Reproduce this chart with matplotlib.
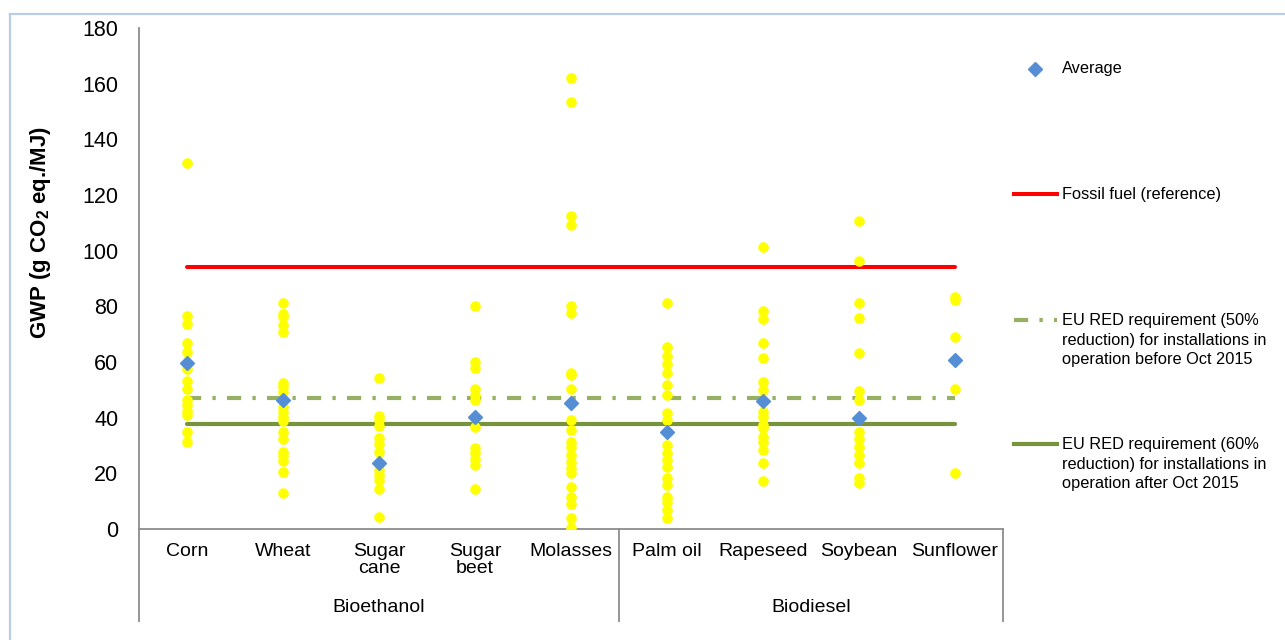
import matplotlib
matplotlib.use("Agg")
import matplotlib.pyplot as plt
from matplotlib.lines import Line2D
import matplotlib.transforms as mtransforms

plt.rcParams['font.family'] = ['Liberation Sans', 'DejaVu Sans']
plt.rcParams['mathtext.fontset'] = 'custom'
plt.rcParams['mathtext.rm'] = 'Liberation Sans'
plt.rcParams['mathtext.bf'] = 'Liberation Sans:bold'

# ---------------- data ----------------
categories = ["Corn", "Wheat", "Sugar\ncane", "Sugar\nbeet", "Molasses",
              "Palm oil", "Rapeseed", "Soybean", "Sunflower"]
groups = ["Bioethanol", "Biodiesel"]
group_sizes = [5, 4]

corn = [131.6, 76.5, 73.7, 67.0, 63.6, 57.5, 53.3, 50.4, 46.4, 44.6, 42.5, 40.8, 34.9, 31.1]
wheat = [81.1, 77.3, 76.3, 73.3, 70.7, 52.3, 50.9, 49.1, 46.4, 43.9, 42.1, 40.4, 38.9,
         34.9, 32.2, 27.8, 26.3, 24.6, 20.4, 12.8]
sugar_cane = [54.4, 40.7, 39.2, 37.0, 32.6, 30.4, 27.8, 23.8, 21.2, 19.4, 17.6, 14.3, 4.4]
sugar_beet = [80.2, 60.1, 58.0, 50.3, 48.1, 46.4, 40.4, 36.8, 29.2, 27.2, 25.0, 23.0, 14.3]
molasses = [161.9, 153.5, 112.6, 109.2, 80.2, 77.5, 56.2, 55.3, 50.3, 45.2, 39.2, 35.6,
            31.4, 29.6, 26.6, 24.2, 21.8, 20.0, 15.2, 11.6, 9.0, 3.8, 0.5]
palm_oil = [81.1, 65.5, 62.2, 59.3, 56.2, 51.7, 48.1, 41.6, 39.2, 35.0, 30.2, 27.2, 24.8,
            22.4, 18.2, 15.8, 11.6, 9.8, 6.8, 3.8]
rapeseed = [101.2, 78.5, 75.3, 66.7, 61.6, 52.9, 49.9, 46.1, 42.1, 40.4, 37.4, 36.2,
            33.2, 31.4, 28.4, 23.8, 17.2]
soybean = [110.7, 96.3, 81.1, 75.9, 63.4, 49.6, 46.4, 40.0, 35.0, 32.2, 29.6, 26.6,
           23.6, 18.4, 16.4]
sunflower = [83.5, 82.3, 69.1, 60.7, 50.3, 20.0]

averages = [59.5, 46.4, 23.8, 40.4, 45.2, 35.0, 46.1, 40.0, 60.7]

fossil_fuel = 94.0
red_50 = 47.0
red_60 = 37.6

series = [corn, wheat, sugar_cane, sugar_beet, molasses,
          palm_oil, rapeseed, soybean, sunflower]

y_label = r"GWP (g CO$_\mathregular{2}$ eq./MJ)"
legend_labels = ["Average", "Fossil fuel (reference)",
                 "EU RED requirement (50%\nreduction) for installations in\noperation before Oct 2015",
                 "EU RED requirement (60%\nreduction) for installations in\noperation after Oct 2015"]

# ---------------- styles ----------------
W, H = 1285, 640
YELLOW = "#FFFF00"
BLUE = "#558ED5"
RED = "#FF0000"
GREEN = "#77933C"
LGREEN = "#98B064"
GRAY = "#8C8C8C"
DASHDOT = (0, (3.4, 2.7, 0.8, 2.7))

fig = plt.figure(figsize=(W / 100, H / 100), dpi=100)
ax = fig.add_axes([139 / W, 1 - 529 / H, (1003 - 139) / W, (529 - 28) / H])

xs = list(range(len(categories)))

# horizontal reference lines (first to last category)
ax.plot([xs[0], xs[-1]], [fossil_fuel, fossil_fuel], color=RED, lw=2.9, solid_capstyle='round', zorder=2)
ax.plot([xs[0], xs[-1]], [red_50, red_50], color=LGREEN, lw=3.0, linestyle=DASHDOT, zorder=2)
ax.plot([xs[0], xs[-1]], [red_60, red_60], color=GREEN, lw=3.0, solid_capstyle='round', zorder=2)

for x, vals in zip(xs, series):
    ax.plot([x] * len(vals), vals, linestyle='none', marker='o', ms=6.6,
            color=YELLOW, mec=YELLOW, zorder=3)
ax.plot(xs, averages, linestyle='none', marker='D', ms=7.6, color=BLUE, mec=BLUE, zorder=4)

ax.set_xlim(-0.5, len(categories) - 0.5)
ax.set_ylim(0, 180)
ax.set_yticks(range(0, 181, 20))
ax.tick_params(axis='y', length=0, pad=15, labelsize=15.5)
ax.set_xticks(xs)
ax.set_xticklabels(categories, fontsize=14, linespacing=1.0)
ax.tick_params(axis='x', length=0, pad=10)

for s in ['top', 'right']:
    ax.spines[s].set_visible(False)
for s in ['left', 'bottom']:
    ax.spines[s].set_color(GRAY)
    ax.spines[s].set_linewidth(1.3)
ax.spines['left'].set_bounds(0, 180)

# multi-level category separators & group labels
trans = mtransforms.blended_transform_factory(ax.transData, ax.transAxes)
y_sep = (529 - 621) / (529 - 28)
edges = [-0.5]
for n in group_sizes:
    edges.append(edges[-1] + n)
for e in edges:
    ax.add_line(Line2D([e, e], [0, y_sep], transform=trans, color=GRAY, lw=1.3, clip_on=False))
y_grp = (529 - 608) / (529 - 28)
for i, g in enumerate(groups):
    ax.text((edges[i] + edges[i + 1]) / 2, y_grp, g, transform=trans,
            ha='center', va='center', fontsize=14)


# ---------------- helpers for figure-pixel placement ----------------
def fx(px):
    return px / W


def fy(py):
    return 1 - py / H


fig.text(fx(41), fy(232), y_label, rotation=90, fontsize=16, fontweight='bold',
         ha='center', va='center')

# ---------------- legend (manual) ----------------
fig.add_artist(Line2D([fx(1035)], [fy(69)], marker='D', ms=7.6, color=BLUE, mec=BLUE, linestyle='none'))
fig.add_artist(Line2D([fx(1014), fx(1057)], [fy(194), fy(194)], color=RED, lw=2.9))
fig.add_artist(Line2D([fx(1014), fx(1057)], [fy(320), fy(320)], color=LGREEN, lw=3.0, linestyle=DASHDOT))
fig.add_artist(Line2D([fx(1014), fx(1057)], [fy(444), fy(444)], color=GREEN, lw=3.0))

fig.text(fx(1062), fy(69), legend_labels[0], fontsize=11.8, va='center', ha='left')
fig.text(fx(1062), fy(194), legend_labels[1], fontsize=11.8, va='center', ha='left')
fig.text(fx(1062), fy(340), legend_labels[2], fontsize=11.8, va='center', ha='left', linespacing=1.35)
fig.text(fx(1062), fy(464), legend_labels[3], fontsize=11.8, va='center', ha='left', linespacing=1.35)

# outer chart frame (top and left edges visible)
FRAME = "#B9CDE5"
fig.add_artist(Line2D([fx(10), 1.0], [fy(14), fy(14)], color=FRAME, lw=1.6))
fig.add_artist(Line2D([fx(10), fx(10)], [fy(14), 0.0], color=FRAME, lw=1.6))

fig.savefig("out.png", dpi=100)
